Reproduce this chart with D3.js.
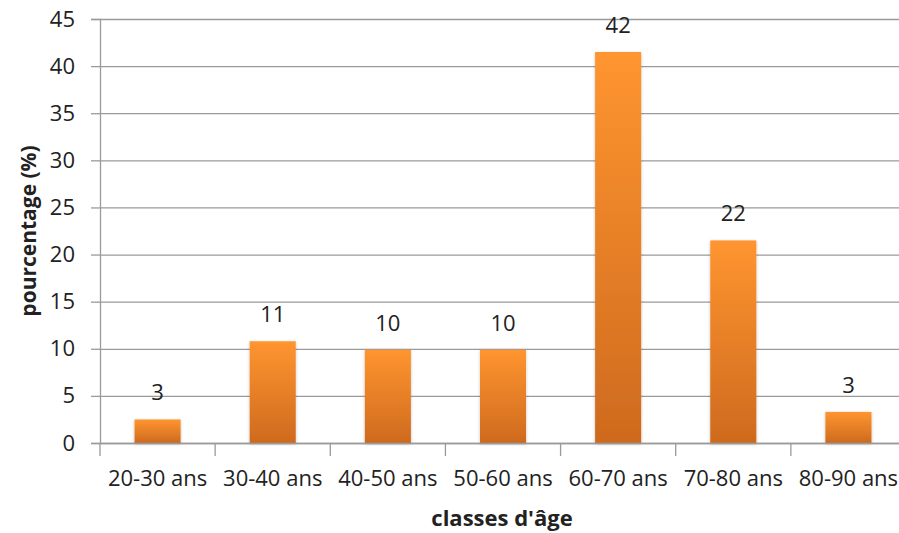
<!DOCTYPE html>
<html><head><meta charset="utf-8">
<script src="https://cdn.jsdelivr.net/npm/d3@7"></script>
<style>
html,body{margin:0;padding:0;background:#fff;}
svg{display:block;}
text{font-family:"Open Sans","Lato",sans-serif;fill:#222;}
</style></head>
<body>
<svg id="chart" width="899" height="533"></svg>
<script>
const categories = ["20-30 ans","30-40 ans","40-50 ans","50-60 ans","60-70 ans","70-80 ans","80-90 ans"];
const values = [2.5, 10.8, 9.9, 9.9, 41.5, 21.5, 3.3];
const labels = ["3","11","10","10","42","22","3"];
const yTicks = [0,5,10,15,20,25,30,35,40,45];

(function(){
const svg = d3.select("#chart");
const mL = 100, mR = 906, mT = 19, mB = 443;

const x = d3.scaleBand().domain(categories).range([mL, mR]).paddingInner(0.6).paddingOuter(0.3);
const y = d3.scaleLinear().domain([0,45]).range([mB, mT]);

const defs = svg.append("defs");
const grad = defs.append("linearGradient").attr("id","barGrad").attr("x1",0).attr("y1",0).attr("x2",0).attr("y2",1);
grad.append("stop").attr("offset","0%").attr("stop-color","#FF9530");
grad.append("stop").attr("offset","100%").attr("stop-color","#CE6A1E");
const f = defs.append("filter").attr("id","shadow").attr("x","-20%").attr("y","-10%").attr("width","140%").attr("height","130%");
f.append("feDropShadow").attr("dx",0).attr("dy",1).attr("stdDeviation",1.5).attr("flood-color","#000").attr("flood-opacity",0.25);

// gridlines
const grid = svg.append("g")
  .attr("transform",`translate(${mL},0)`)
  .call(d3.axisLeft(y).tickValues(yTicks).tickSize(-(mR-mL)).tickFormat(""));
grid.select(".domain").remove();
grid.selectAll("line").attr("stroke","#9a9a9a").attr("stroke-width",1.3);

// y axis
const yAxis = svg.append("g")
  .attr("transform",`translate(${mL},0)`)
  .call(d3.axisLeft(y).tickValues(yTicks).tickSize(9).tickPadding(16));
yAxis.select(".domain").attr("stroke","#9a9a9a").attr("stroke-width",1.3);
yAxis.selectAll("line").attr("stroke","#9a9a9a").attr("stroke-width",1.3);
yAxis.selectAll("text").style("font-size","22px").attr("fill","#222");

// bars
svg.append("g").selectAll("rect").data(values).join("rect")
  .attr("x",(d,i)=>x(categories[i]))
  .attr("y",d=>y(d))
  .attr("width",x.bandwidth())
  .attr("height",d=>y(0)-y(d))
  .attr("fill","url(#barGrad)")
  .attr("filter","url(#shadow)");

// x axis
const xAxis = svg.append("g")
  .attr("transform",`translate(0,${mB})`)
  .call(d3.axisBottom(x).tickSize(0).tickPadding(27));
xAxis.select(".domain").attr("stroke","#9a9a9a").attr("stroke-width",1.3);
xAxis.selectAll("text").style("font-size","22px").attr("fill","#222");
const step = x.step();
const sep = d3.range(categories.length+1).map(i => mL + i*step);
xAxis.selectAll(".sep").data(sep).join("line").attr("class","sep")
  .attr("x1",d=>d).attr("x2",d=>d).attr("y1",0).attr("y2",13)
  .attr("stroke","#9a9a9a").attr("stroke-width",1.3);

// value labels
svg.append("g").selectAll("text").data(values).join("text")
  .attr("x",(d,i)=>x(categories[i])+x.bandwidth()/2)
  .attr("y",d=>y(d)-19)
  .attr("text-anchor","middle")
  .style("font-size","22px")
  .text((d,i)=>labels[i]);

// axis titles
svg.append("text")
  .attr("transform",`translate(36,${(mT+mB)/2}) rotate(-90)`)
  .attr("text-anchor","middle")
  .style("font-size","21px").style("font-weight","bold")
  .text("pourcentage (%)");
svg.append("text")
  .attr("x",502).attr("y",526)
  .attr("text-anchor","middle")
  .style("font-size","22px").style("font-weight","bold")
  .text("classes d'âge");
})();
</script>
</body></html>
